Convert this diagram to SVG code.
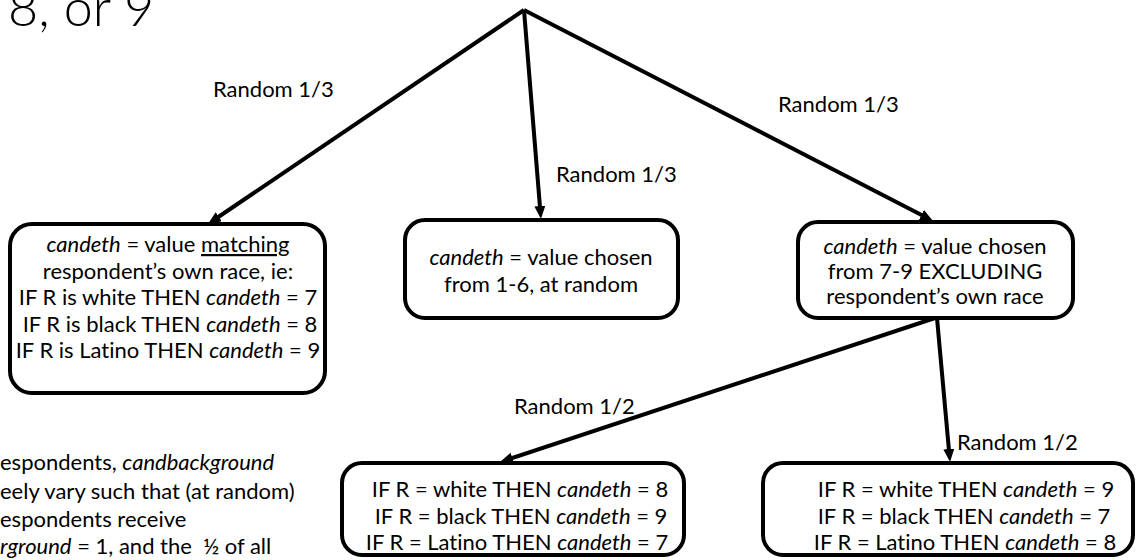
<svg xmlns="http://www.w3.org/2000/svg" width="1138" height="560" viewBox="0 0 1138 560">
  <style>
    .t { font-family: Lato, "Liberation Sans", sans-serif; font-size: 22px; fill: #000; font-variant-ligatures: none; }
    .c { text-anchor: middle; }
    .i { font-style: italic; }
    .box { fill: #fff; stroke: #000; stroke-width: 4; }
    .edge { stroke: #000; stroke-width: 4; fill: none; marker-end: url(#arrow); }
    .title { font-family: Lato, "Liberation Sans", sans-serif; font-weight: 300; font-size: 52px; fill: #000; }
  </style>
  <defs>
    <marker id="arrow" markerUnits="userSpaceOnUse" markerWidth="14" markerHeight="12" refX="5" refY="5.5" orient="auto">
      <path d="M0,0 L13,5.5 L0,11 z" fill="#000"/>
    </marker>
  </defs>
  <rect width="1138" height="560" fill="#fff"/>

  <text class="title" x="8" y="26">8, or 9</text>

  <g id="connectors">
    <path class="edge" d="M524,10 L214.6,219.5"/>
    <path class="edge" d="M524,10 L540.3,211"/>
    <path class="edge" d="M524,10 L925.9,217.3"/>
    <path class="edge" d="M935,318 L507.6,459.5"/>
    <path class="edge" d="M937,318 L949.3,454"/>
    <text class="t" x="213" y="97">Random 1/3</text>
    <text class="t" x="556" y="182">Random 1/3</text>
    <text class="t" x="778" y="112">Random 1/3</text>
    <text class="t" x="514" y="414">Random 1/2</text>
    <text class="t" x="957" y="450">Random 1/2</text>
  </g>

  <g id="node-match">
    <rect class="box" x="10" y="224" width="315" height="169" rx="22"/>
    <text class="t c" x="168" y="252"><tspan class="i">candeth</tspan> = value <tspan text-decoration="underline">matching</tspan></text>
    <text class="t c" x="168" y="278.5">respondent’s own race, ie:</text>
    <text class="t c" x="168" y="305">IF R is white THEN <tspan class="i">candeth</tspan> = 7</text>
    <text class="t c" x="170" y="331.5">IF R is black THEN <tspan class="i">candeth</tspan> = 8</text>
    <text class="t c" x="168" y="358">IF R is Latino THEN <tspan class="i">candeth</tspan> = 9</text>
  </g>

  <g id="node-random">
    <rect class="box" x="405" y="220" width="273" height="98" rx="20"/>
    <text class="t c" x="541" y="265"><tspan class="i">candeth</tspan> = value chosen</text>
    <text class="t c" x="541" y="292">from 1-6, at random</text>
  </g>

  <g id="node-exclude">
    <rect class="box" x="798" y="222" width="275" height="96" rx="20"/>
    <text class="t c" x="935" y="254"><tspan class="i">candeth</tspan> = value chosen</text>
    <text class="t c" x="935" y="279">from 7-9 EXCLUDING</text>
    <text class="t c" x="935" y="304">respondent’s own race</text>
  </g>

  <g id="node-shift1">
    <rect class="box" x="342" y="463" width="342" height="92" rx="20"/>
    <text class="t c" x="520" y="497">IF R = white THEN <tspan class="i">candeth</tspan> = 8</text>
    <text class="t c" x="521" y="523.5">IF R = black THEN <tspan class="i">candeth</tspan> = 9</text>
    <text class="t c" x="517" y="550">IF R = Latino THEN <tspan class="i">candeth</tspan> = 7</text>
  </g>

  <g id="node-shift2">
    <rect class="box" x="763" y="463" width="370" height="92" rx="20"/>
    <text class="t c" x="966" y="497">IF R = white THEN <tspan class="i">candeth</tspan> = 9</text>
    <text class="t c" x="964" y="523.5">IF R = black THEN <tspan class="i">candeth</tspan> = 7</text>
    <text class="t c" x="965" y="550">IF R = Latino THEN <tspan class="i">candeth</tspan> = 8</text>
  </g>

  <g id="note">
    <text class="t" x="0" y="470">espondents, <tspan class="i">candbackground</tspan></text>
    <text class="t" x="0" y="499">eely vary such that (at random)</text>
    <text class="t" x="0" y="527">espondents receive</text>
    <text class="t" x="0" y="554"><tspan class="i">rground</tspan> = 1, and the &#160;½ of all</text>
  </g>
</svg>
